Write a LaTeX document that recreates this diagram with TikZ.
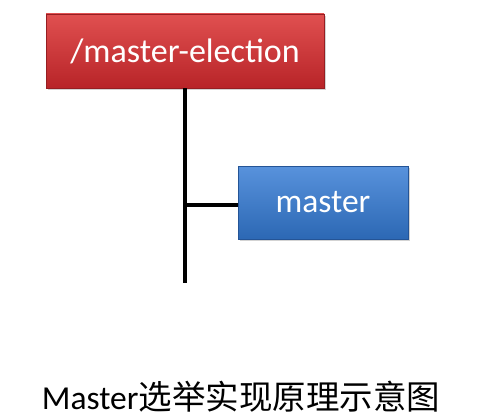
\documentclass[tikz,border=0pt]{standalone}
\usepackage{fontspec}
\setmainfont{Carlito}
\newfontfamily\cjk{Noto Sans CJK SC}
\usetikzlibrary{shadows}
\definecolor{redtop}{RGB}{224,80,80}
\definecolor{redbot}{RGB}{184,36,40}
\definecolor{redline}{RGB}{150,30,34}
\definecolor{bluetop}{RGB}{88,146,220}
\definecolor{bluebot}{RGB}{44,104,180}
\definecolor{blueline}{RGB}{36,84,150}
\tikzset{
  box/.style={draw, line width=0.8pt, minimum height=74pt, text=white, inner sep=0pt,
    drop shadow={shadow xshift=2pt, shadow yshift=-2pt, opacity=0.35}},
  redbox/.style={box, top color=redtop, bottom color=redbot, draw=redline, minimum width=278pt, font=\fontsize{34}{38}\selectfont},
  bluebox/.style={box, top color=bluetop, bottom color=bluebot, draw=blueline, minimum width=170pt, minimum height=73pt, font=\fontsize{33.5}{38}\selectfont},
  conn/.style={line width=4pt, black}
}
\begin{document}
\begin{tikzpicture}[x=1pt,y=1pt]
\useasboundingbox (0,0) rectangle (482,-420);
\node[redbox] (root) at (185,-51) {/master-election};
\node[bluebox] (master) at (323,-202.5) {master};
\coordinate (bottom) at (185,-283);
\coordinate (branch) at (185,-205);
\draw[conn] (root.south) -- (bottom);
\draw[conn] (branch) -- (branch -| master.west);
\node[font=\fontsize{33.5}{38}\selectfont, inner sep=0pt] (caption) at (241,-397) {Master{\cjk 选举实现原理示意图}};
\end{tikzpicture}
\end{document}
